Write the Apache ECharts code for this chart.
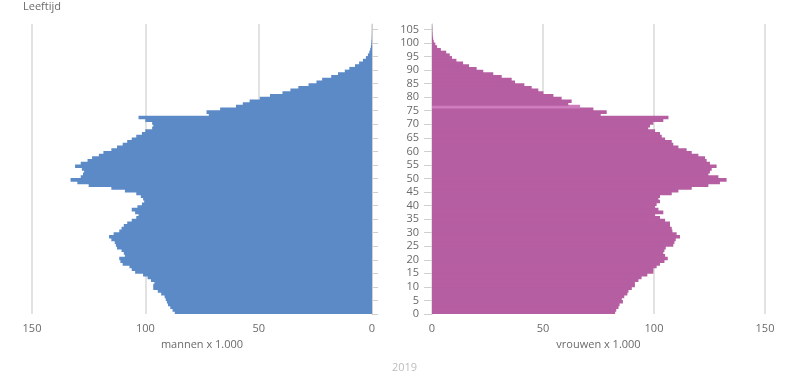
<!DOCTYPE html>
<html>
<head>
<meta charset="utf-8">
<script src="https://cdn.jsdelivr.net/npm/echarts@6/dist/echarts.min.js"></script>
<style>
html,body{margin:0;padding:0;background:#fff;}
#chart{width:798px;height:381px;}
</style>
</head>
<body>
<div id="chart"></div>
<script>
// Age categories 0..106 (106 left empty as top padding)
const ages = [];
for (let a = 0; a <= 106; a++) ages.push(String(a));

// Tick labels on the age axis
const ageTicks = [0,5,10,15,20,25,30,35,40,45,50,55,60,65,70,75,80,85,90,95,100,105];

// Men x 1.000, ages 0..105
const men = [
  87, 88, 89, 90, 90.5, 91, 91.5, 93, 94.5, 96.5,
  96.5, 96, 97.5, 99, 101, 104.5, 106, 107, 110, 111,
  111.5, 109, 109.5, 110.5, 112.5, 113, 113.5, 115, 116, 114,
  111.5, 110.5, 109.5, 108, 106, 104, 103, 104.5, 106, 103.5,
  101.5, 100.5, 101, 102, 104, 109, 115, 125, 130, 133,
  128.5, 127.5, 127, 128, 131, 128.5, 125.5, 123.5, 120.5, 118.5,
  115, 112.5, 110, 108, 106, 104, 101.5, 100, 97, 96.5,
  97, 100, 103, 72, 73, 67, 60, 57, 54, 49.5,
  45, 39.5, 36, 32.5, 28, 24.5, 22, 18, 15, 12,
  10, 7.5, 5.7, 4, 2.7, 1.8, 1.2, 0.8, 0.5, 0.3,
  0.2, 0.1, 0.06, 0.03, 0.02, 0.01
];

// Women x 1.000, ages 0..105
const women = [
  82.5, 83, 84, 84.5, 86, 85.5, 86.6, 88, 88.5, 90,
  91.4, 91.4, 93, 94.4, 97, 99.7, 99.7, 101.2, 102.7, 104.7,
  106.2, 105, 104.2, 104.7, 105.3, 108.7, 109.2, 109.8, 111.7, 110.2,
  108.3, 108, 107.2, 107.2, 105, 102.7, 100.5, 104.2, 102, 100.5,
  101.2, 102.7, 102, 102.7, 108, 111, 117, 124.5, 129.7, 132.7,
  129, 124.5, 125.2, 126, 128.2, 125.2, 123.7, 123, 120, 117,
  114.7, 111, 108.7, 108, 105, 103.5, 102.7, 100.5, 97.4, 98.2,
  99.7, 104.2, 106.5, 76, 78.7, 72.7, 66.7, 61.4, 62.9, 58.4,
  54.7, 50.2, 47.9, 44.9, 41.6, 37.4, 35.9, 31.4, 27.6, 23.1,
  20.1, 16.7, 14, 11, 9, 8, 6.4, 4, 2.3, 1.5,
  0.8, 0.5, 0.3, 0.2, 0.1, 0.1
];

const highlightAge = 76;

const BLUE = '#5b8ac7';
const PINK = '#b65ea2';
const PINK_LIGHT = '#cd7cbc';
const FONT = '"Open Sans", "Noto Sans", sans-serif';
const TXT = '#6a6a6a';

const chart = echarts.init(document.getElementById('chart'), null, {renderer: 'canvas'});

function xAxisCfg(grid, inverse, name) {
  return {
    gridIndex: grid, type: 'value', inverse: inverse, min: 0, max: 150, interval: 50,
    name: name, nameLocation: 'middle', nameGap: 24,
    nameTextStyle: {color: TXT, fontSize: 11, fontFamily: FONT},
    axisLine: {show: false}, axisTick: {show: false},
    axisLabel: {color: TXT, fontSize: 11, fontFamily: FONT, margin: 9},
    splitLine: {show: true, lineStyle: {color: '#e2e2e2', width: 2}}
  };
}

const womenData = women.map((v, i) => i === highlightAge
  ? {value: v, itemStyle: {color: PINK_LIGHT}} : v);

chart.setOption({
  animation: false,
  textStyle: {fontFamily: FONT},
  grid: [
    {left: 32, right: 426, top: 24, bottom: 67},
    {left: 432, right: 33, top: 24, bottom: 67}
  ],
  xAxis: [
    xAxisCfg(0, true, 'mannen x 1.000'),
    xAxisCfg(1, false, 'vrouwen x 1.000')
  ],
  yAxis: [
    {gridIndex: 0, type: 'category', data: ages, show: false},
    {gridIndex: 0, type: 'value', min: 0, max: 107, position: 'right',
     axisLine: {show: true, onZero: false, lineStyle: {color: '#cfcfcf', width: 1}},
     axisTick: {show: true, length: 6, customValues: ageTicks, lineStyle: {color: '#cfcfcf'}},
     axisLabel: {show: false}, splitLine: {show: false}},
    {gridIndex: 1, type: 'category', data: ages, show: false},
    {gridIndex: 1, type: 'value', min: 0, max: 107, position: 'left',
     axisLine: {show: true, onZero: false, lineStyle: {color: '#cfcfcf', width: 1}},
     axisTick: {show: true, length: 8, customValues: ageTicks, lineStyle: {color: '#cfcfcf'}},
     axisLabel: {show: true, customValues: ageTicks, color: TXT, fontSize: 11, fontFamily: FONT, margin: 13},
     splitLine: {show: false}}
  ],
  series: [
    {type: 'bar', xAxisIndex: 0, yAxisIndex: 0, data: men, barWidth: 3.6,
     itemStyle: {color: BLUE}, silent: true},
    {type: 'bar', xAxisIndex: 1, yAxisIndex: 2, data: womenData, barWidth: 3.6,
     itemStyle: {color: PINK}, silent: true}
  ],
  graphic: [
    {type: 'text', left: 23, top: 1, style: {text: 'Leeftijd', fill: TXT, fontSize: 11, fontFamily: FONT}},
    {type: 'text', left: 392, top: 362, style: {text: '2019', fill: '#bdbdbd', fontSize: 11, fontFamily: FONT}}
  ]
});
</script>
</body>
</html>
